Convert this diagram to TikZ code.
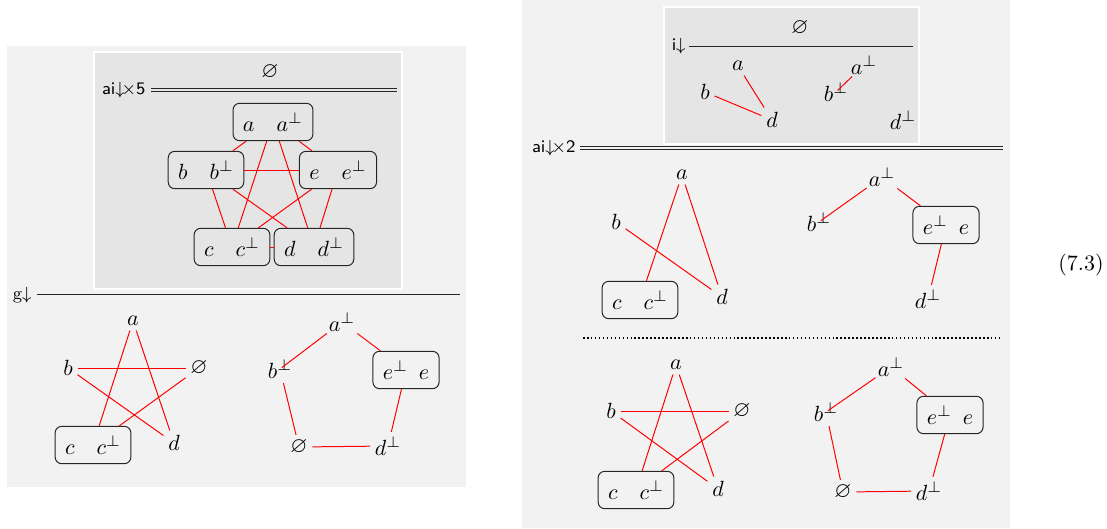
\documentclass[tikz,border=0pt]{standalone}
\usepackage{amssymb}
\begin{document}
\begin{tikzpicture}[x=0.4545pt,y=-0.4545pt,
  outerbg/.style={fill=gray!10,draw=none},
  innerbg/.style={fill=gray!20,draw=white,line width=0.5pt},
  lt/.style={inner sep=2pt},
  ltp/.style={inner sep=0.8pt},
  bx/.style={draw=black!85,rounded corners=3pt,line width=0.45pt,minimum height=17pt,inner xsep=4.5pt,inner ysep=2pt},
  re/.style={red,line width=0.45pt},
  rl/.style={inner sep=0pt,anchor=east,font=\footnotesize},
  rulesingle/.style={line width=0.45pt,black!85},
  ruledouble/.style={line width=0.4pt,double distance=1pt,black!85},
  dotrule/.style={line width=0.7pt,dash pattern=on 0.7pt off 1.1pt}
]
\useasboundingbox (0,0) rectangle (1107,529);
% backgrounds
\fill[outerbg] (7,46) rectangle (466,487);
\draw[innerbg] (94,52) rectangle (402,289);
\fill[outerbg] (522,0) rectangle (1010,528);
\draw[innerbg] (664,7) rectangle (919,144);

% ===== left top =====
\node[lt] (Le) at (270,72) {$\varnothing$};
\coordinate (LrA) at (151,90);
\coordinate (LrB) at (397,90);
\draw[ruledouble,double=gray!20] (LrA) -- (LrB);
\node[rl] (Llab) at (146,90) {\textsf{ai}$\downarrow\!$\textsf{$\times$5}};

\node[bx] (Ka) at (273,122) {$a\quad a^\perp$};
\node[bx] (Kb) at (206,170) {$b\quad b^\perp$};
\node[bx] (Ke) at (338,170) {$e\quad e^\perp$};
\node[bx] (Kc) at (232,247) {$c\quad c^\perp$};
\node[bx] (Kd) at (314,247) {$d\quad d^\perp$};
\foreach \u/\v in {Ka/Kb,Ka/Ke,Ka/Kc,Ka/Kd,Kb/Ke,Kb/Kc,Kb/Kd,Ke/Kc,Ke/Kd,Kc/Kd}
  \draw[re] (\u) -- (\v);

% ===== left bottom =====
\coordinate (GrA) at (37,294);
\coordinate (GrB) at (460,294);
\draw[rulesingle] (GrA) -- (GrB);
\node[rl] (Glab) at (32,295) {\textrm{g}$\downarrow$};

\node[lt] (ga) at (133,321) {$a$};
\node[lt] (gb) at (68,368) {$b$};
\node[lt] (ge0) at (199,368) {$\varnothing$};
\node[bx] (gc) at (93,445) {$c\quad c^\perp$};
\node[lt] (gd) at (174,443) {$d$};
\draw[re] (ga) -- (gc);
\draw[re] (ga) -- (gd);
\draw[re] (gb) -- (ge0);
\draw[re] (gb) -- (gd);
\draw[re] (ge0) -- (gc);

\node[ltp] (gap) at (342,322) {$a^\perp$};
\node[lt] (gbp) at (280,369) {$b^\perp$};
\node[bx] (gep) at (406,370) {$e^\perp\enspace e$};
\node[lt] (gz) at (299,447) {$\varnothing$};
\node[lt] (gdp) at (388,446) {$d^\perp$};
\draw[re,shorten >=1pt] (gap) -- (gbp.center);
\draw[re] (gap) -- (gep);
\draw[re] (gep) -- (gdp);
\draw[re] (gz) -- (gdp);
\draw[re] (gbp) -- (gz);

% ===== right top (inner) =====
\node[lt] (Ie) at (800,28) {$\varnothing$};
\coordinate (IrA) at (689,46);
\coordinate (IrB) at (913,46);
\draw[rulesingle] (IrA) -- (IrB);
\node[rl] (Ilab) at (686,46) {\textsf{i}$\downarrow$};
\node[lt] (ia) at (738,66) {$a$};
\node[lt] (ib) at (705,92) {$b$};
\node[lt] (id) at (772,120) {$d$};
\node[ltp] (iap) at (864,65) {$a^\perp$};
\node[lt] (ibp) at (836,92) {$b^\perp$};
\node[lt] (idp) at (903,120) {$d^\perp$};
\draw[re] (ia) -- (id);
\draw[re] (ib) -- (id);
\draw[re,shorten >=1pt] (iap) -- (ibp.center);

% double rule
\coordinate (ArA) at (580,148);
\coordinate (ArB) at (1003,148);
\draw[ruledouble,double=gray!10] (ArA) -- (ArB);
\node[rl] (Alab) at (576,148) {\textsf{ai}$\downarrow\!$\textsf{$\times$2}};

% ===== right middle =====
\node[lt] (ra) at (682,175) {$a$};
\node[lt] (rb) at (616,222) {$b$};
\node[bx] (rc) at (640,300) {$c\quad c^\perp$};
\node[lt] (rd) at (722,297) {$d$};
\draw[re] (ra) -- (rc);
\draw[re] (ra) -- (rd);
\draw[re] (rb) -- (rd);

\node[ltp] (rap) at (882,177) {$a^\perp$};
\node[lt] (rbp) at (819,222) {$b^\perp$};
\node[bx] (rep) at (946,225) {$e^\perp\enspace e$};
\node[lt] (rdp) at (928,299) {$d^\perp$};
\draw[re,shorten >=1pt] (rap) -- (rbp.center);
\draw[re] (rap) -- (rep);
\draw[re] (rep) -- (rdp);

% dotted rule
\coordinate (DrA) at (583,338);
\coordinate (DrB) at (1000,338);
\draw[dotrule] (DrA) -- (DrB);

% ===== right bottom =====
\node[lt] (sa) at (676,365) {$a$};
\node[lt] (sb) at (611,411) {$b$};
\node[lt] (se0) at (742,411) {$\varnothing$};
\node[bx] (sc) at (636,490) {$c\quad c^\perp$};
\node[lt] (sd) at (718,489) {$d$};
\draw[re] (sa) -- (sc);
\draw[re] (sa) -- (sd);
\draw[re] (sb) -- (se0);
\draw[re] (sb) -- (sd);
\draw[re] (se0) -- (sc);

\node[ltp] (sap) at (891,367) {$a^\perp$};
\node[lt] (sbp) at (826,412) {$b^\perp$};
\node[bx] (sep) at (950,415) {$e^\perp\enspace e$};
\node[lt] (sz) at (843,492) {$\varnothing$};
\node[lt] (sdp) at (929,491) {$d^\perp$};
\draw[re,shorten >=1pt] (sap) -- (sbp.center);
\draw[re] (sap) -- (sep);
\draw[re] (sep) -- (sdp);
\draw[re] (sz) -- (sdp);
\draw[re] (sbp) -- (sz);

% equation number
\node[inner sep=0pt] (eqn) at (1081,265) {(7.3)};
\end{tikzpicture}
\end{document}
